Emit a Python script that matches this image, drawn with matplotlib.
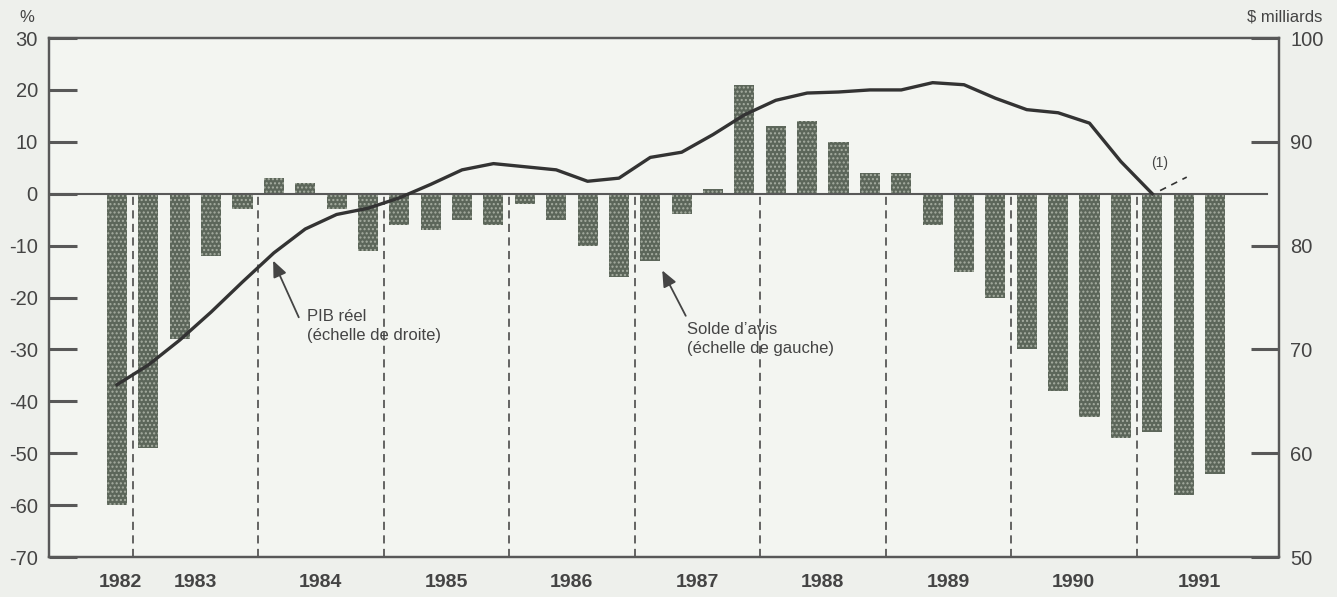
import numpy as np
import matplotlib
matplotlib.use("Agg")
import matplotlib.pyplot as plt

plt.rcParams['font.family'] = ['Liberation Sans', 'DejaVu Sans']

# solde d'avis, % (quarterly, 1982 Q4 .. 1991 Q3)
solde = [-60, -49, -28, -12, -3, 3, 2, -3, -11, -6, -7, -5, -6, -2, -5, -10,
         -16, -13, -4, 1, 21, 13, 14, 10, 4, 4, -6, -15, -20, -30, -38, -43,
         -47, -46, -58, -54]
# PIB reel, $ milliards (same quarters, ends 1991 Q1)
pib = [66.6, 68.5, 70.9, 73.6, 76.5, 79.3, 81.6, 83.0, 83.6, 84.6, 85.9,
       87.3, 87.9, 87.6, 87.3, 86.2, 86.5, 88.5, 89.0, 90.7, 92.6, 94.0,
       94.7, 94.8, 95.0, 95.0, 95.7, 95.5, 94.2, 93.1, 92.8, 91.8, 88.1, 85.0]
# projection (1)
proj_x = [33.25, 34.1]
proj_y = [85.3, 86.6]

years = ['1982', '1983', '1984', '1985', '1986', '1987', '1988', '1989', '1990', '1991']
year_pos = [0.1, 2.5, 6.5, 10.5, 14.5, 18.5, 22.5, 26.5, 30.5, 34.5]
year_breaks = [0.5, 4.5, 8.5, 12.5, 16.5, 20.5, 24.5, 28.5, 32.5]

left_ticks = list(range(-70, 31, 10))
right_ticks = list(range(50, 101, 10))

txt = '#444444'
frame = '#585858'
bg = '#eef0ec'

fig = plt.figure(figsize=(13.37, 5.97), dpi=100, facecolor=bg)
ax = fig.add_axes([0.0366, 0.067, 0.92, 0.8693], facecolor='#f3f5f1')

x = np.arange(len(solde))
ax.bar(x, solde, width=0.64, color='#5c665a', edgecolor='none', zorder=2)
# stipple on top of the bars
ax.bar(x, solde, width=0.64, color='none', edgecolor='#a7aea2',
       hatch='....', linewidth=0, zorder=2.1)

ax.axhline(0, xmin=0, xmax=0.99, color=frame, lw=1.5, zorder=3)
ax.vlines(year_breaks, -70, 0, colors=frame, linestyles=(0, (4.5, 3)), lw=1.3, zorder=2.5)

ax.set_xlim(-2.17, 37.04)
ax.set_ylim(-70, 30)
ax.set_xticks([])
ax.set_yticks(left_ticks)
ax.set_yticklabels([str(v) for v in left_ticks])
ax.tick_params(axis='y', direction='in', length=20, width=2.2, color=frame,
               labelsize=14.5, labelcolor=txt, pad=8)

for yr, xp in zip(years, year_pos):
    ax.text(xp, -0.05, yr, transform=ax.get_xaxis_transform(), ha='center',
            va='center', fontsize=14, fontweight='bold', color=txt)

ax2 = ax.twinx()
ax2.set_ylim(50, 100)
ax2.set_yticks(right_ticks)
ax2.set_yticklabels([str(v) for v in right_ticks])
ax2.tick_params(axis='y', direction='in', length=20, width=2.2, color=frame,
                labelsize=14.5, labelcolor=txt, pad=8)
ax2.plot(np.arange(len(pib)), pib, color='#333333', lw=2.4, zorder=4,
         solid_joinstyle='round')
ax2.plot(proj_x, proj_y, color='#333333', lw=1.2, linestyle=(0, (4, 3.5)))
ax2.text(33.25, 88.0, '(1)', fontsize=10, color=txt, ha='center', va='center')

for a in (ax, ax2):
    for s in a.spines.values():
        s.set_color(frame)
        s.set_linewidth(1.6)

# annotations
ax.annotate('', xy=(4.94, -12.4), xytext=(5.83, -24.3),
            arrowprops=dict(arrowstyle='-|>,head_length=0.7,head_width=0.3',
                            color=txt, lw=1.3, mutation_scale=14), zorder=5)
ax.text(6.06, -25.5, 'PIB réel\n(échelle de droite)', fontsize=12, color=txt,
        ha='left', va='center', linespacing=1.3)
ax.annotate('', xy=(17.34, -14.3), xytext=(18.17, -24.0),
            arrowprops=dict(arrowstyle='-|>,head_length=0.7,head_width=0.3',
                            color=txt, lw=1.3, mutation_scale=14), zorder=5)
ax.text(18.17, -28.0, 'Solde d\u2019avis\n(échelle de gauche)', fontsize=12,
        color=txt, ha='left', va='center', linespacing=1.3)

ax.text(-0.018, 1.04, '%', transform=ax.transAxes, fontsize=12, color=txt,
        ha='center', va='center')
ax.text(1.035, 1.04, '$ milliards', transform=ax.transAxes, fontsize=12,
        color=txt, ha='right', va='center')

fig.savefig('out.png', dpi=100, facecolor=bg)
